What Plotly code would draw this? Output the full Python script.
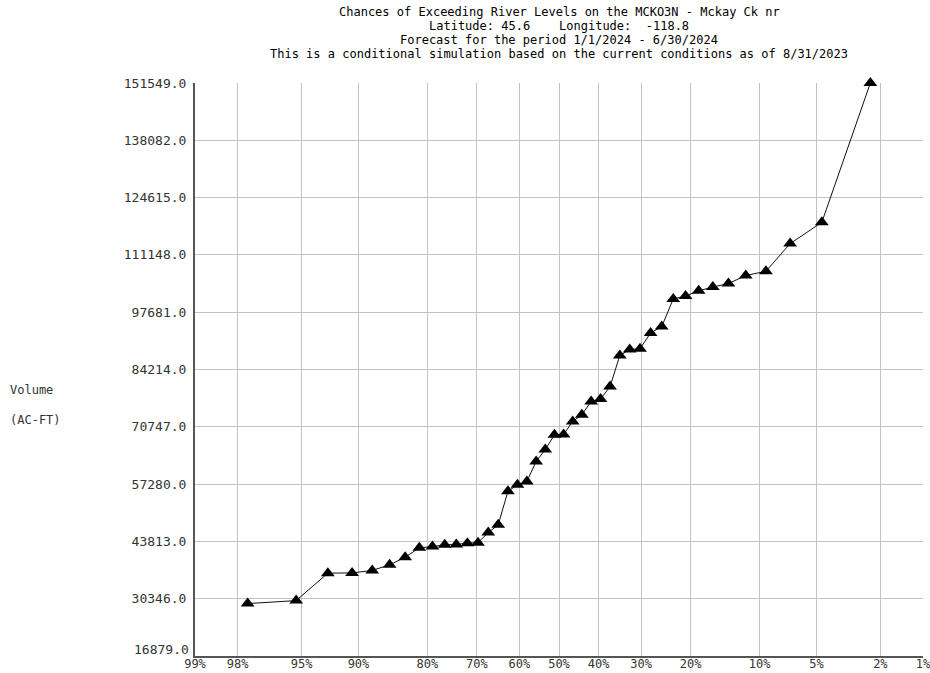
from statistics import NormalDist

import plotly.graph_objects as go

# Chance of exceedance (%) for each ensemble member, driest to wettest
exceed_pct = [97.67, 95.35, 93.02, 90.70, 88.37, 86.05, 83.72, 81.40, 79.07, 76.74,
              74.42, 72.09, 69.77, 67.44, 65.12, 62.79, 60.47, 58.14, 55.81, 53.49,
              51.16, 48.84, 46.51, 44.19, 41.86, 39.53, 37.21, 34.88, 32.56, 30.23,
              27.91, 25.58, 23.26, 20.93, 18.60, 16.28, 13.95, 11.63, 9.30, 6.98,
              4.65, 2.33]

# Seasonal volume (AC-FT) for each member
volume = [29200, 29900, 36350, 36400, 37000, 38300, 40100, 42300, 42600, 43000,
          43100, 43400, 43500, 45900, 47700, 55600, 57100, 57900, 62600, 65400,
          68850, 68950, 72000, 73600, 76700, 77300, 80200, 87500, 88900, 89100,
          92800, 94300, 100800, 101500, 102700, 103600, 104400, 106300, 107300, 113800,
          118800, 151549]

# Probability-axis ticks
prob_ticks = [99, 98, 95, 90, 80, 70, 60, 50, 40, 30, 20, 10, 5, 2, 1]
prob_labels = ["99%", "98%", "95%", "90%", "80%", "70%", "60%", "50%",
               "40%", "30%", "20%", "10%", "5%", "2%", "1%"]

# Volume-axis ticks
vol_ticks = [16879.0, 30346.0, 43813.0, 57280.0, 70747.0, 84214.0,
             97681.0, 111148.0, 124615.0, 138082.0, 151549.0]

title_lines = [
    "Chances of Exceeding River Levels on the MCKO3N - Mckay Ck nr",
    "Latitude: 45.6    Longitude:  -118.8",
    "Forecast for the period 1/1/2024 - 6/30/2024",
    "This is a conditional simulation based on the current conditions as of 8/31/2023",
]

nd = NormalDist()


def prob_to_x(p):
    """Normal-probability scale: exceedance percent -> standard normal deviate."""
    return nd.inv_cdf(1 - p / 100.0)


FONT = "DejaVu Sans Mono"
W, H = 930, 673
L, R, T, B = 195, 7, 83, 17
PW, PH = W - L - R, H - T - B

fig = go.Figure()
fig.add_trace(go.Scatter(
    x=[prob_to_x(p) for p in exceed_pct],
    y=volume,
    mode="lines+markers",
    line=dict(color="#111111", width=1),
    marker=dict(symbol="triangle-up", size=12, color="#000000"),
    cliponaxis=False,
    hoverinfo="skip",
    showlegend=False,
))

x_end = prob_to_x(99)
fig.update_xaxes(
    range=[x_end, -x_end],
    tickmode="array",
    tickvals=[prob_to_x(p) for p in prob_ticks],
    ticktext=prob_labels,
    showgrid=True, gridcolor="#c2c2c2", gridwidth=1,
    showline=True, linecolor="#555555", linewidth=2,
    zeroline=False, ticks="", ticklabeloverflow="allow", automargin=False,
    ticklabelstandoff=-4,
    tickfont=dict(family=FONT, size=12, color="#333333"),
)

# The lowest volume label sits just above the corner so it clears "99%"
vol_labels = [f"{v:.1f}" for v in vol_ticks]
fig.update_yaxes(
    range=[vol_ticks[0], vol_ticks[-1]],
    tickmode="array",
    tickvals=vol_ticks,
    ticktext=[""] + vol_labels[1:],
    showgrid=True, gridcolor="#c2c2c2", gridwidth=1,
    showline=True, linecolor="#555555", linewidth=2,
    zeroline=False, ticks="", ticklabelstandoff=4, automargin=False,
    tickfont=dict(family=FONT, size=13, color="#333333"),
)

annotations = [dict(
    text=vol_labels[0], xref="paper", yref="paper",
    x=-4 / PW, y=(H - B - 649) / PH,
    xanchor="right", yanchor="middle", showarrow=False,
    font=dict(family=FONT, size=13, color="#333333"),
)]
for i, line in enumerate(title_lines):
    y_px = 12.5 + 14 * i
    annotations.append(dict(
        text=line, xref="paper", yref="paper",
        x=0.5, y=1 + (T - y_px) / PH,
        xanchor="center", yanchor="middle", showarrow=False,
        font=dict(family=FONT, size=12, color="#000000"),
    ))
for text, y_px in [("Volume", 390), ("(AC-FT)", 420)]:
    annotations.append(dict(
        text=text, xref="paper", yref="paper",
        x=(8 - L) / PW, y=(H - B - y_px) / PH,
        xanchor="left", yanchor="middle", showarrow=False,
        font=dict(family=FONT, size=12, color="#333333"),
    ))

fig.update_layout(
    width=W, height=H,
    margin=dict(l=L, r=R, t=T, b=B, pad=0, autoexpand=False),
    paper_bgcolor="white", plot_bgcolor="white",
    annotations=annotations,
)

fig.write_html("out.html")
